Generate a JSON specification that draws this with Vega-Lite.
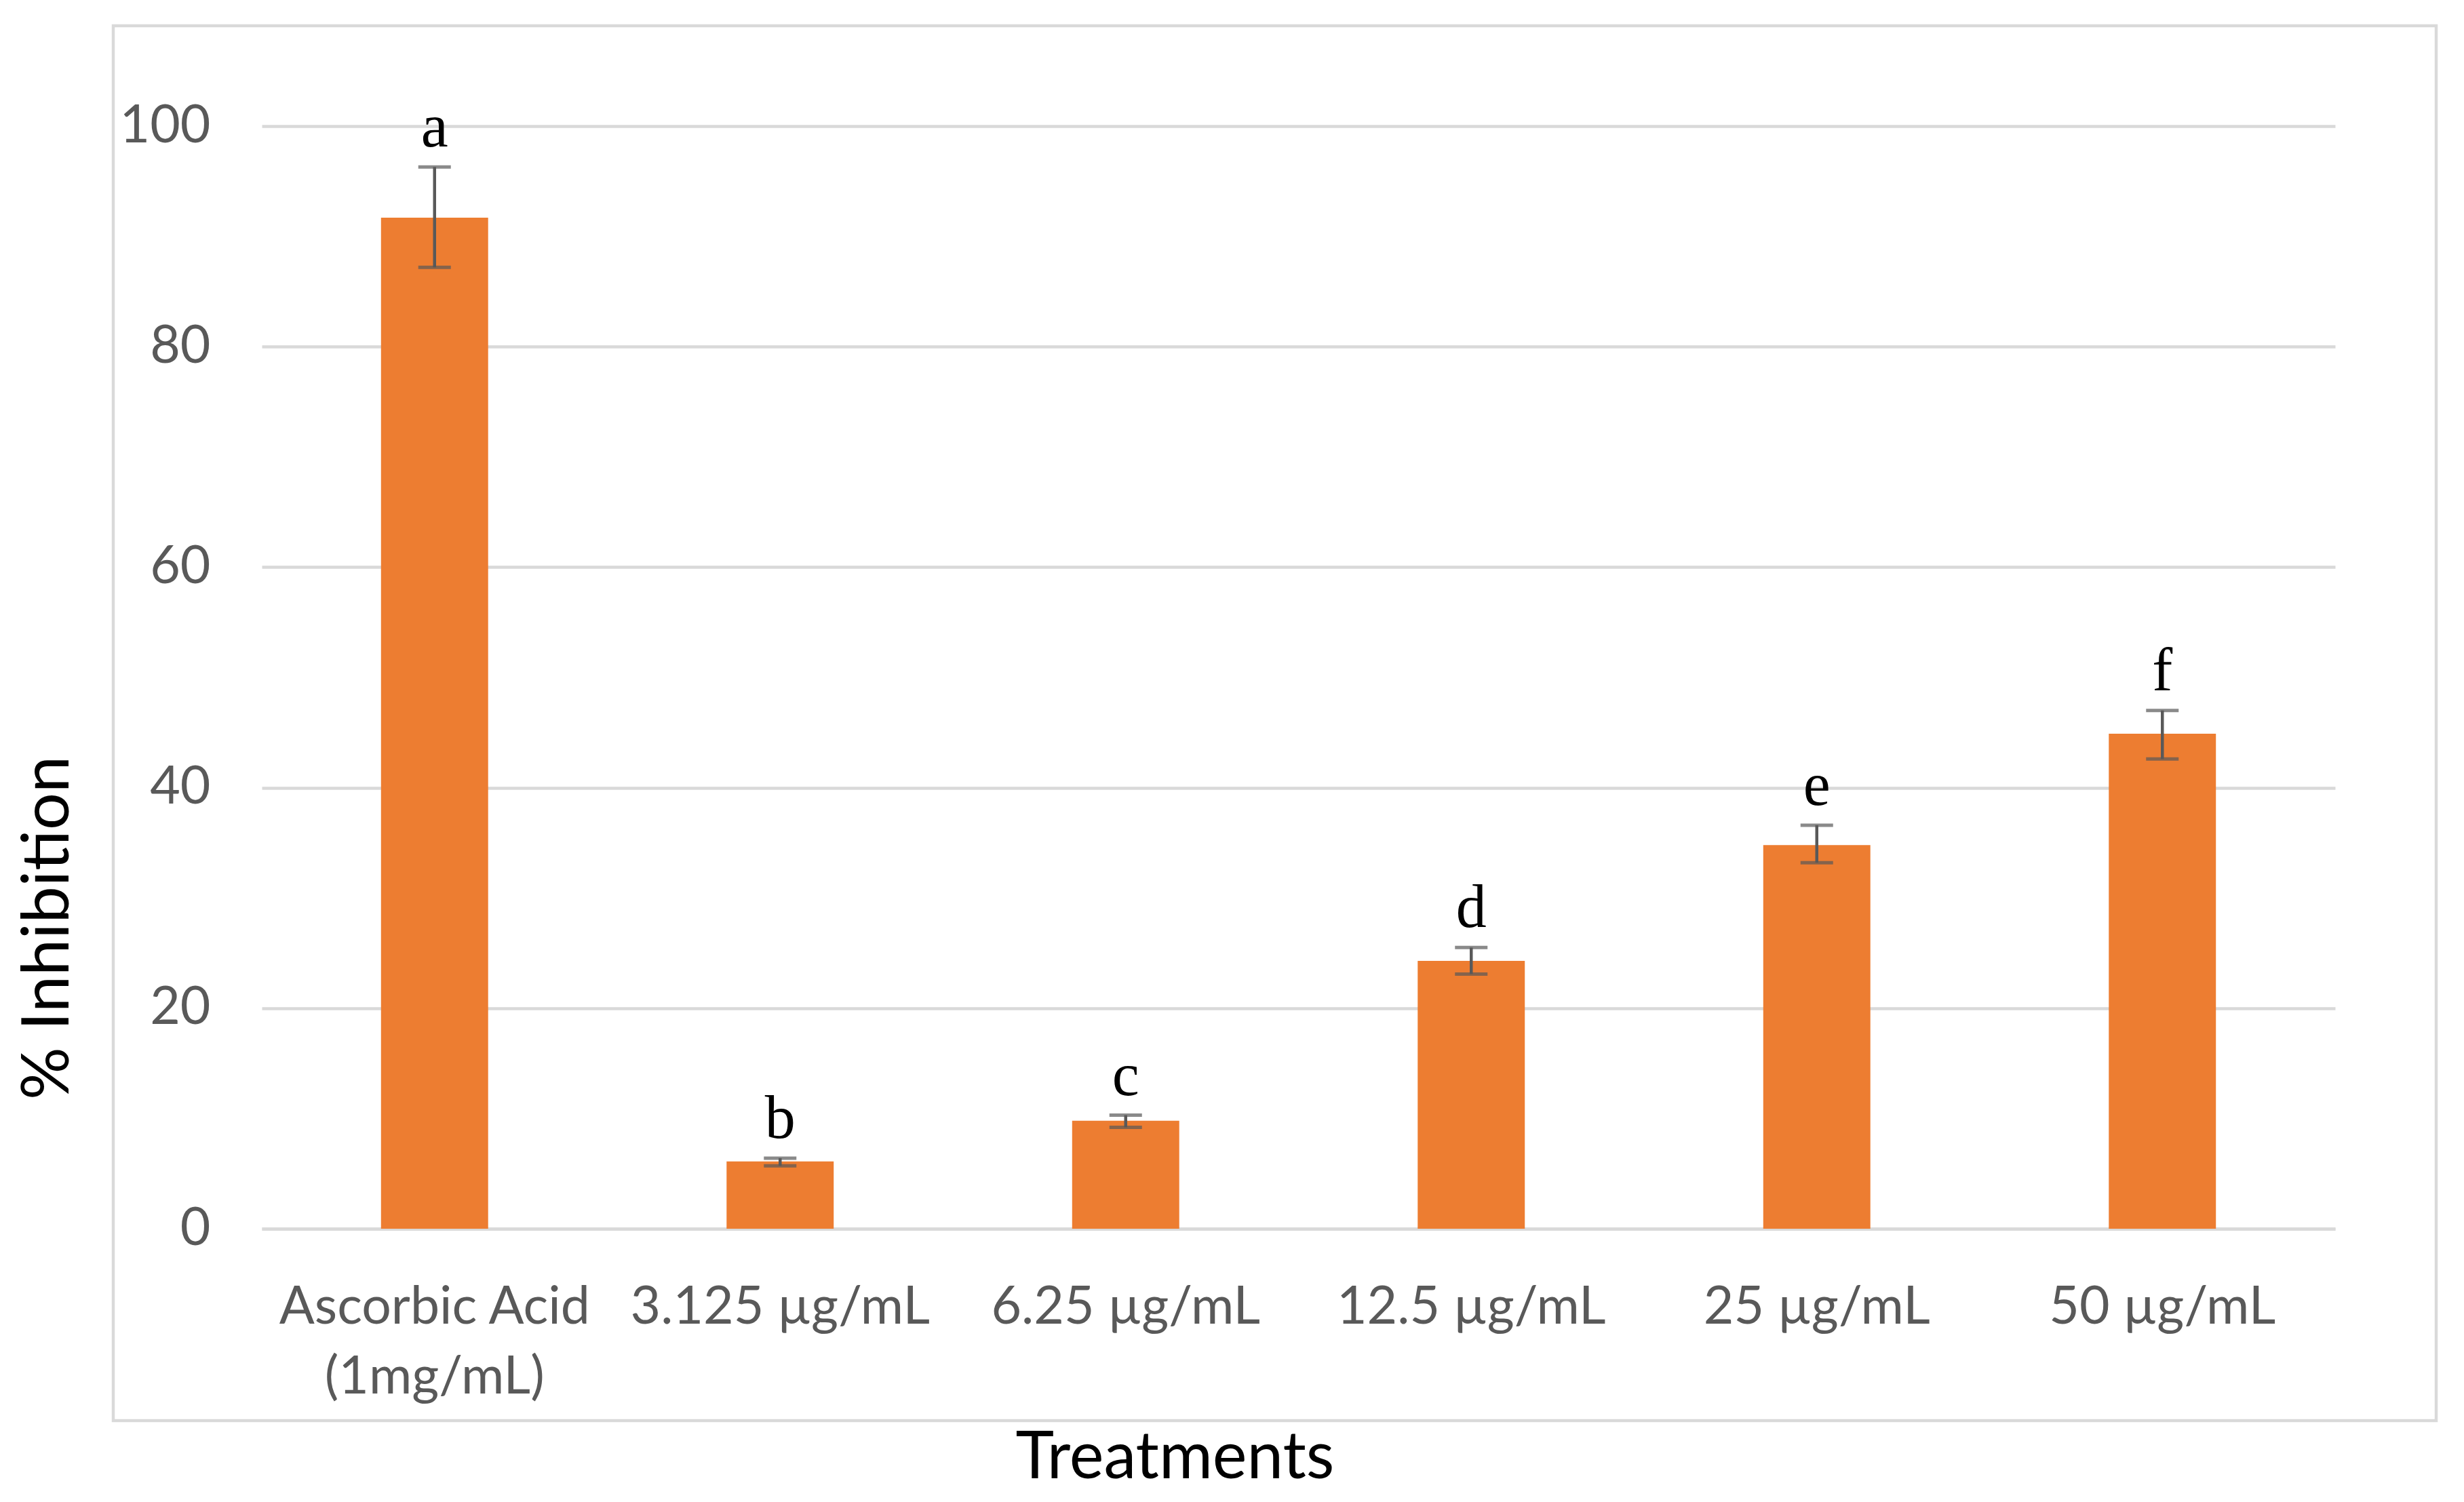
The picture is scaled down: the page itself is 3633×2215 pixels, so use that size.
{
  "$schema": "https://vega.github.io/schema/vega-lite/v6.json",
  "autosize": {"type": "none"},
  "padding": {"left": 167, "top": 38, "right": 41, "bottom": 120},
  "width": 3425,
  "height": 2057,
  "background": "white",
  "config": {"view": {"stroke": "#d9d9d9", "strokeWidth": 4.5}, "font": "Lato"},
  "data": {
    "values": [
      {"treatment": "Ascorbic Acid (1mg/mL)", "inhibition": 91.7, "lower": 87.2, "upper": 96.3, "letter": "a"},
      {"treatment": "3.125 µg/mL", "inhibition": 6.1, "lower": 5.7, "upper": 6.4, "letter": "b"},
      {"treatment": "6.25 µg/mL", "inhibition": 9.8, "lower": 9.2, "upper": 10.3, "letter": "c"},
      {"treatment": "12.5 µg/mL", "inhibition": 24.3, "lower": 23.1, "upper": 25.5, "letter": "d"},
      {"treatment": "25 µg/mL", "inhibition": 34.8, "lower": 33.2, "upper": 36.6, "letter": "e"},
      {"treatment": "50 µg/mL", "inhibition": 44.9, "lower": 42.6, "upper": 47.0, "letter": "f"}
    ]
  },
  "encoding": {
    "x": {
      "field": "treatment",
      "type": "nominal",
      "sort": null,
      "scale": {"range": [219, 3276], "paddingInner": 0.69, "paddingOuter": 0.345},
      "axis": {
        "title": "Treatments",
        "orient": "bottom",
        "offset": -283,
        "grid": false,
        "domain": true,
        "domainColor": "#d9d9d9",
        "domainWidth": 4.5,
        "ticks": false,
        "tickSize": 0,
        "labelAngle": 0,
        "labelFont": "Lato",
        "labelFontSize": 77,
        "labelColor": "#595959",
        "labelPadding": 139,
        "labelBaseline": "alphabetic",
        "labelLineHeight": 103,
        "labelLimit": 0,
        "labelExpr": "datum.value == 'Ascorbic Acid (1mg/mL)' ? ['Ascorbic Acid', '(1mg/mL)'] : datum.label",
        "titleFont": "Lato",
        "titleFontSize": 96,
        "titleFontWeight": "normal",
        "titleColor": "#000000",
        "titleX": 1565,
        "titleY": 367,
        "titleAlign": "center",
        "titleBaseline": "alphabetic"
      }
    }
  },
  "layer": [
    {
      "mark": {"type": "bar", "color": "#ED7D31"},
      "encoding": {
        "y": {
          "field": "inhibition",
          "type": "quantitative",
          "scale": {"domain": [0, 100], "range": [1774, 148], "nice": false, "zero": true},
          "axis": {
            "title": "% Inhibition",
            "values": [0, 20, 40, 60, 80, 100],
            "grid": true,
            "gridColor": "#d9d9d9",
            "gridWidth": 4.5,
            "domain": false,
            "ticks": false,
            "tickSize": 0,
            "offset": -143,
            "labelPadding": 0,
            "labelFont": "Lato",
            "labelFontSize": 77,
            "labelColor": "#595959",
            "titleFont": "Lato",
            "titleFontSize": 97,
            "titleFontWeight": "normal",
            "titleColor": "#000000",
            "titleX": -210,
            "titleY": 1330,
            "titleAngle": -90,
            "titleAlign": "center",
            "titleBaseline": "alphabetic"
          }
        }
      }
    },
    {
      "mark": {"type": "rule", "color": "#595959", "strokeWidth": 4.5},
      "encoding": {
        "y": {"field": "lower", "type": "quantitative", "title": "% Inhibition"},
        "y2": {"field": "upper"}
      }
    },
    {
      "mark": {"type": "tick", "color": "#595959", "size": 48, "thickness": 5},
      "encoding": {"y": {"field": "lower", "type": "quantitative", "title": "% Inhibition"}}
    },
    {
      "mark": {"type": "tick", "color": "#595959", "size": 48, "thickness": 5},
      "encoding": {"y": {"field": "upper", "type": "quantitative", "title": "% Inhibition"}}
    },
    {
      "mark": {"type": "text", "font": "Liberation Serif", "fontSize": 90, "baseline": "alphabetic", "dy": -30, "color": "#000000"},
      "encoding": {
        "y": {"field": "upper", "type": "quantitative", "title": "% Inhibition"},
        "text": {"field": "letter"}
      }
    }
  ]
}
